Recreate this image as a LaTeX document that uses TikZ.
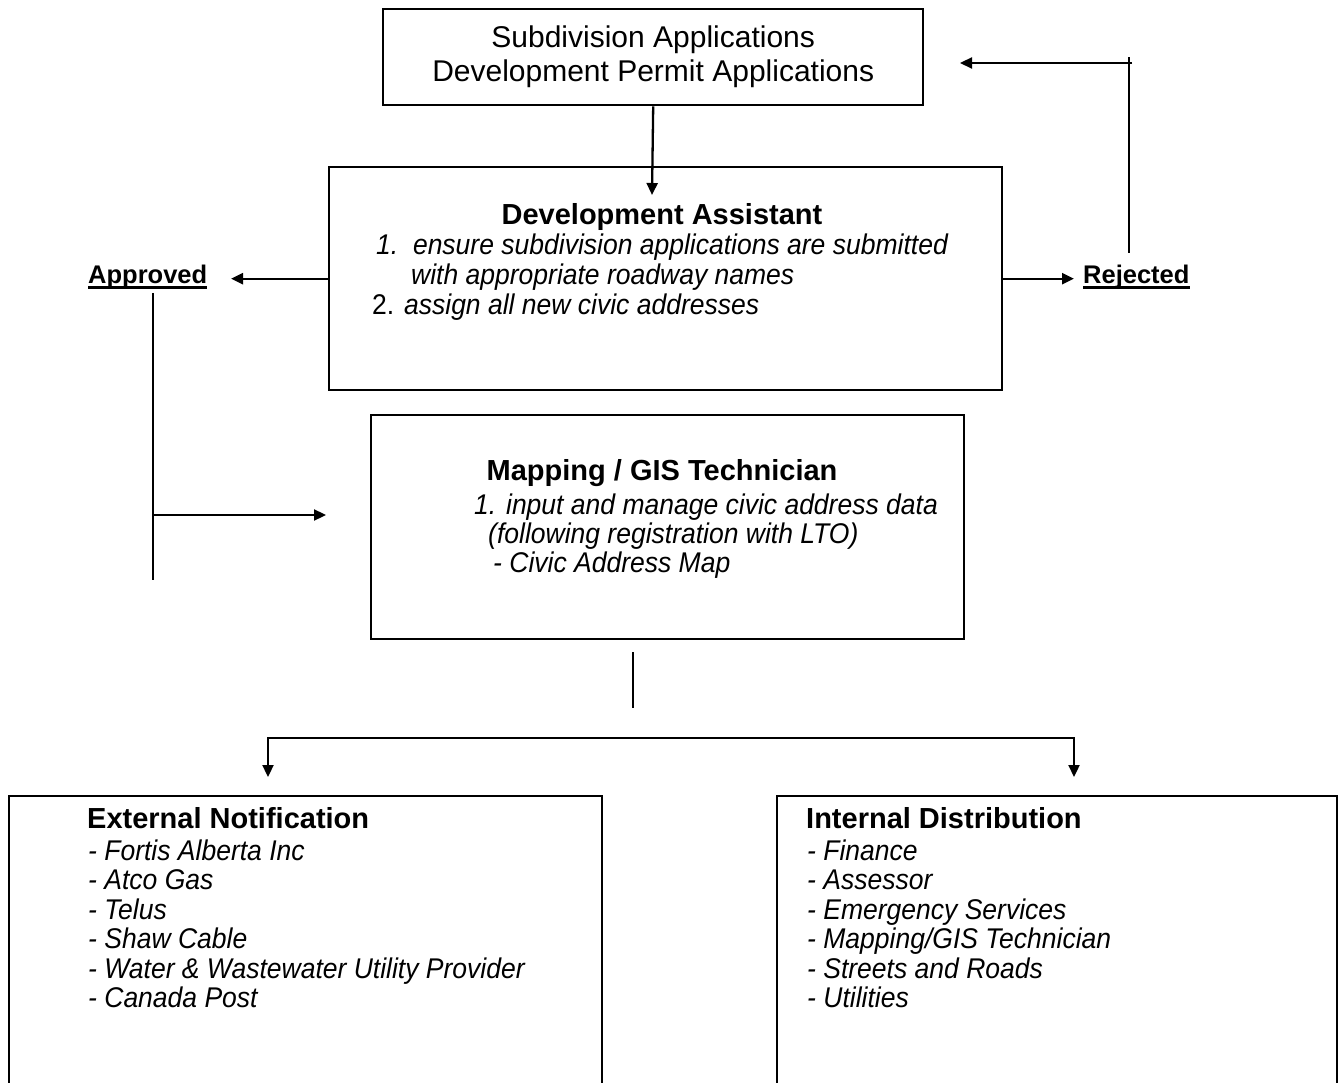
\documentclass[tikz,border=0pt]{standalone}
\usepackage{fontspec}
\setmainfont{Liberation Sans}
\newfontfamily\listfont[FakeStretch=0.93]{Liberation Sans}
\usetikzlibrary{arrows.meta}

\newcommand{\wordrule}[1]{\setbox0\hbox{#1}\rlap{\rule[-5pt]{\wd0}{2.5pt}}\box0}

\tikzset{
  panel/.style={draw, line width=2.4pt, inner sep=0pt, anchor=north west},
  heading/.style={font=\fontsize{29}{34}\selectfont\bfseries, anchor=base, inner sep=0pt},
  entry/.style={font=\fontsize{28.5}{30}\selectfont\listfont\itshape, anchor=base west, inner sep=0pt},
  verdict/.style={font=\fontsize{25.5}{30}\selectfont\bfseries, anchor=base west, inner sep=0pt},
  wire/.style={line width=2.3pt},
  link/.style={wire, -{Triangle[length=12pt,width=11pt]}},
  twolink/.style={wire, {Triangle[length=12pt,width=11pt]}-{Triangle[length=12pt,width=11pt]}}
}

\begin{document}
\begin{tikzpicture}[x=1pt, y=-1pt]
    \clip (0,0) rectangle (1339,1083);

    \node[panel, minimum width=540pt, minimum height=96pt, align=center, font=\fontsize{30}{34}\selectfont] (apps) at (382,8) {Subdivision Applications\\Development Permit Applications};
    \node[panel, minimum width=673pt, minimum height=223pt] (da) at (328,166) {};
    \node[panel, minimum width=593pt, minimum height=224pt] (gis) at (370,414) {};
    \node[panel, minimum width=593pt, minimum height=320pt] (ext) at (8,795) {};
    \node[panel, minimum width=560pt, minimum height=320pt] (int) at (776,795) {};

    \node[heading] (daHead) at (662,225) {Development Assistant};
    \node[entry] (da1) at (376,255) {1.\ \ ensure subdivision applications are submitted};
    \node[entry] (da2) at (411,285) {with appropriate roadway names};
    \node[entry] (da3) at (372,315) {{\upshape 2.} assign all new civic addresses};

    \node[heading] (gisHead) at (662,480) {Mapping / GIS Technician};
    \node[entry] (gis1) at (474,514) {1. input and manage civic address data};
    \node[entry] (gis2) at (488,543) {(following registration with LTO)};
    \node[entry] (gis3) at (493,572) {- Civic Address Map};

    \node[heading, anchor=base west] (extHead) at (87,828) {External Notification};
    \foreach \txt [count=\i] in {Fortis Alberta Inc, Atco Gas, Telus, Shaw Cable, Water \& Wastewater Utility Provider, Canada Post}
        \node[entry] (ext\i) at (88,{830.5+29.5*\i}) {- \txt};

    \node[heading, anchor=base west] (intHead) at (806,828) {Internal Distribution};
    \foreach \txt [count=\i] in {Finance, Assessor, Emergency Services, Mapping/GIS Technician, Streets and Roads, Utilities}
        \node[entry] (int\i) at (807,{830.5+29.5*\i}) {- \txt};

    \node[verdict] (ok) at (88,284) {\wordrule{Approved}};
    \node[verdict] (no) at (1083,284) {\wordrule{Rejected}};

    \coordinate (daTip) at (652,195);
    \draw[link] (apps.south) -- (daTip);

    \coordinate (okTip) at (231,0);
    \draw[link] (da.west) -- (da.west -| okTip);
    \coordinate (okTop) at (153,293);
    \coordinate (okEnd) at (153,580);
    \coordinate (okMid) at (153,515);
    \coordinate (gisTip) at (326,515);
    \draw[wire] (okTop) -- (okEnd);
    \draw[link] (okMid) -- (gisTip);

    \coordinate (noTip) at (1074,0);
    \draw[link] (da.east) -- (da.east -| noTip);
    \coordinate (noBot) at (1129,253);
    \coordinate (noTop) at (1129,57);
    \coordinate (backStart) at (1132,63);
    \coordinate (appsTip) at (960,63);
    \draw[wire] (noBot) -- (noTop);
    \draw[link] (backStart) -- (appsTip);

    \coordinate (splitTop) at (633,652);
    \coordinate (splitBot) at (633,708);
    \draw[wire] (splitTop) -- (splitBot);
    \coordinate (busL) at (268,738);
    \coordinate (busR) at (1074,738);
    \coordinate (extTip) at (268,777);
    \coordinate (intTip) at (1074,777);
    \draw[twolink] (extTip) -- (busL) -- (busR) -- (intTip);
\end{tikzpicture}
\end{document}
